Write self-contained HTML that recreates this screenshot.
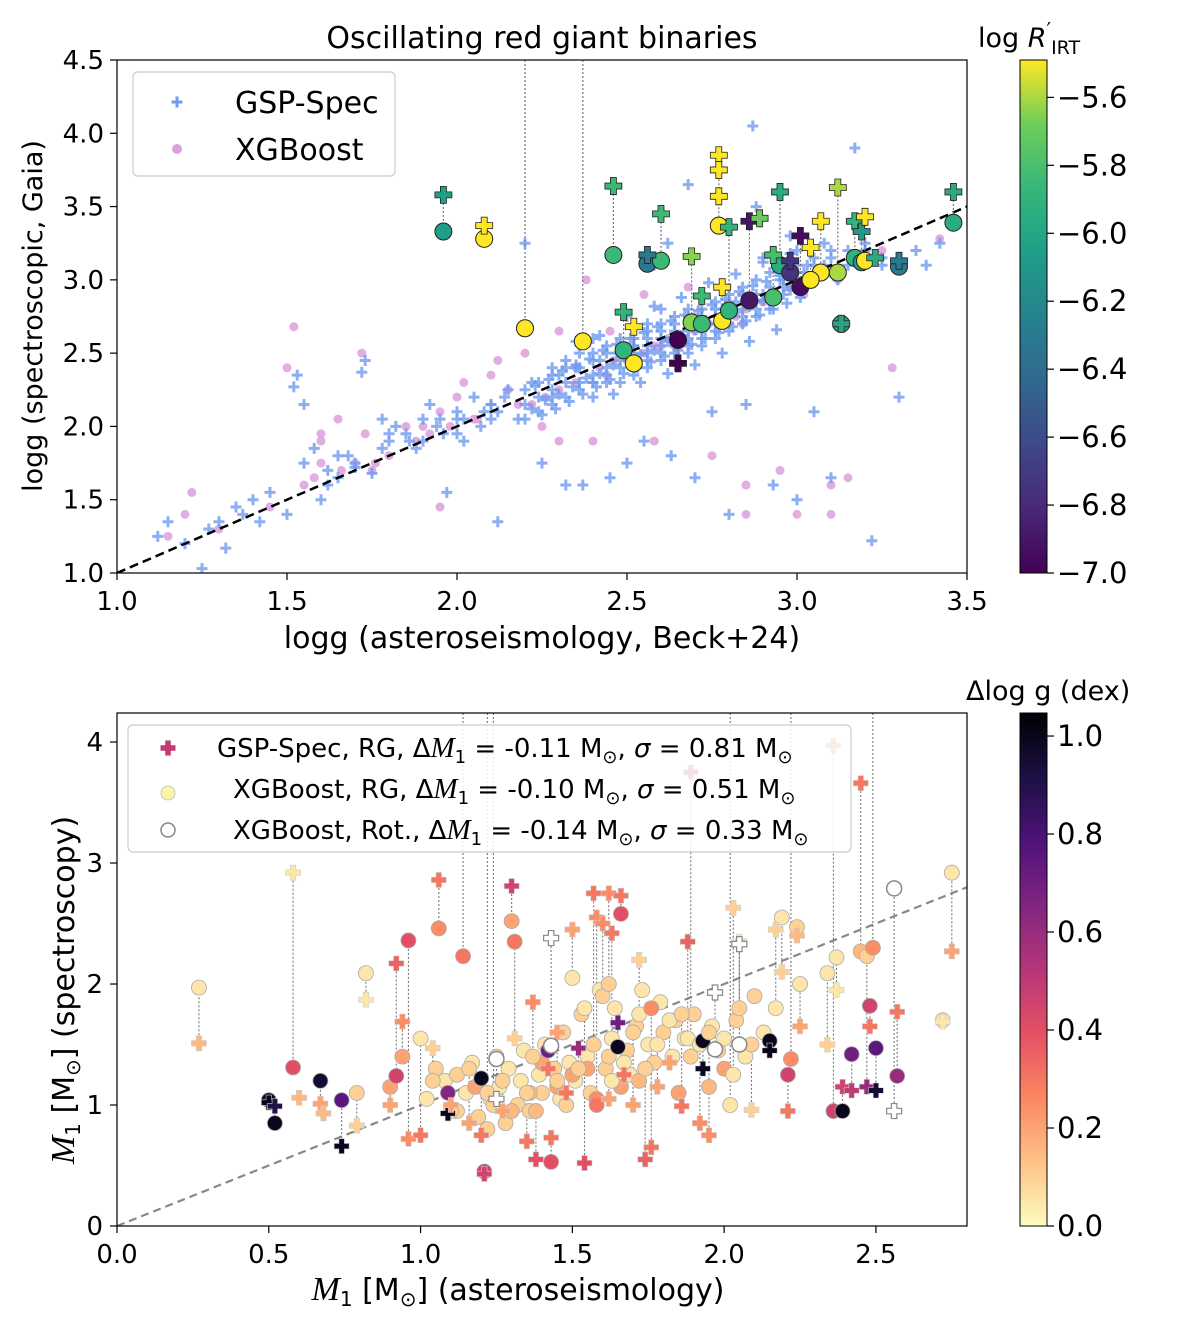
<!DOCTYPE html>
<html><head><meta charset="utf-8">
<style>
html,body{margin:0;padding:0;background:#fff;}
svg{display:block;font-family:"DejaVu Sans","Liberation Sans",sans-serif;}
</style></head>
<body>
<svg id="chart" width="1200" height="1319" viewBox="0 0 1200 1319" xmlns="http://www.w3.org/2000/svg">
<defs>
<linearGradient id="gViridis" x1="0" y1="1" x2="0" y2="0">
<stop offset="0" stop-color="#440154"/><stop offset="0.125" stop-color="#482878"/><stop offset="0.25" stop-color="#3e4989"/><stop offset="0.375" stop-color="#31688e"/><stop offset="0.5" stop-color="#26828e"/><stop offset="0.625" stop-color="#1f9e89"/><stop offset="0.75" stop-color="#35b779"/><stop offset="0.875" stop-color="#6ece58"/><stop offset="1" stop-color="#fde725"/>
</linearGradient>
<linearGradient id="gMagma" x1="0" y1="1" x2="0" y2="0">
<stop offset="0" stop-color="#fcfdbf"/><stop offset="0.125" stop-color="#fec287"/><stop offset="0.25" stop-color="#fb8761"/><stop offset="0.375" stop-color="#e55064"/><stop offset="0.5" stop-color="#b5367a"/><stop offset="0.625" stop-color="#812581"/><stop offset="0.75" stop-color="#4f127b"/><stop offset="0.875" stop-color="#1c1044"/><stop offset="1" stop-color="#000004"/>
</linearGradient>
<clipPath id="clipTop"><rect x="117" y="60" width="850" height="513"/></clipPath>
<clipPath id="clipBot"><rect x="117" y="713" width="850" height="513"/></clipPath>
</defs>
<g id="layer"></g>
</svg>
<script>
// ---------- TOP PANEL DATA ----------
const topGspX = [1.12,1.15,1.2,1.25,1.27,1.3,1.32,1.35,1.37,1.4,1.42,1.45,1.5,1.52,1.53,1.55,1.58,1.6,1.62,1.65,1.68,1.7,1.72,1.73,1.75,1.78,1.8,1.82,1.85,1.88,1.9,1.92,1.95,1.97,2.0,2.02,2.05,2.07,2.1,2.12,2.15,2.18,2.2,2.22,2.25,2.28,2.3,2.32,2.35,2.37,2.4,2.42,2.45,2.47,2.5,2.52,2.55,2.58,2.6,2.62,2.63,2.65,2.68,2.7,2.72,2.75,2.78,2.8,2.82,2.85,2.88,2.9,2.93,2.95,2.98,3.0,3.02,3.05,3.08,3.1,3.12,3.17,3.2,3.22,3.25,3.3,3.42,2.87,
2.2,2.2,2.2,2.24,2.24,2.24,2.28,2.28,2.28,2.28,2.32,2.32,2.32,2.32,2.36,2.36,2.36,2.36,2.4,2.4,2.4,2.4,2.4,2.44,2.44,2.44,2.44,2.44,2.48,2.48,2.48,2.48,2.48,2.48,2.52,2.52,2.52,2.52,2.52,2.52,2.56,2.56,2.56,2.56,2.56,2.56,2.56,2.6,2.6,2.6,2.6,2.6,2.6,2.64,2.64,2.64,2.64,2.64,2.64,2.64,2.68,2.68,2.68,2.68,2.68,2.68,2.68,2.72,2.72,2.72,2.72,2.72,2.72,2.76,2.76,2.76,2.76,2.76,2.76,2.8,2.8,2.8,2.8,2.8,2.8,2.84,2.84,2.84,2.84,2.84,2.88,2.88,2.88,2.88,2.88,2.92,2.92,2.92,2.92,2.92,2.96,2.96,2.96,2.96,3.0,3.0,3.0,3.0,3.05,3.05,3.05,3.1,3.1,3.1,3.15,3.15,3.2,3.2,2.1,2.1,2.0,2.0,1.9,
2.22,2.26,2.3,2.34,2.38,2.42,2.46,2.5,2.54,2.58,2.62,2.66,2.7,2.74,2.78,2.82,2.86,2.9,2.94,2.98,3.02,3.06,
2.23,2.27,2.31,2.35,2.39,2.43,2.47,2.51,2.55,2.59,2.63,2.67,2.71,2.75,2.79,2.83,2.87,2.91,2.95,2.99,3.03,
2.25,2.29,2.33,2.37,2.41,2.45,2.49,2.53,2.57,2.61,2.65,2.69,2.73,2.77,2.81,2.85,2.89,2.93,2.97,3.01,
2.35,2.42,2.5,2.58,2.66,2.74,2.82,2.9,2.98,2.46,2.54,2.62,2.7,2.78,2.86,2.94,
1.62,1.7,1.78,1.86,1.94,2.02,2.08,2.14,1.55,1.65,1.8,1.96,2.12,3.35,3.25,3.38,2.4,2.6,2.9,3.08];
const topGspY = [1.25,1.35,1.2,1.03,1.3,1.35,1.17,1.45,1.4,1.5,1.35,1.55,1.4,2.27,2.35,2.15,1.85,1.5,1.7,1.65,1.8,1.72,2.37,2.45,1.68,2.05,1.9,2.0,1.95,1.85,2.05,2.15,2.05,1.55,2.1,1.9,2.2,2.0,2.15,1.35,2.25,2.05,3.25,2.3,1.75,2.2,2.35,1.6,2.4,1.6,2.3,2.45,1.65,2.5,1.75,2.55,1.9,3.1,2.6,3.25,1.8,2.55,3.65,1.65,2.7,2.1,2.8,1.4,2.85,2.15,3.5,2.9,1.6,3.0,3.3,1.5,3.05,2.1,3.1,1.65,3.0,3.9,3.2,1.22,3.15,2.2,3.25,4.05,
2.15,2.25,2.05,2.2,2.3,2.1,2.25,2.35,2.15,2.4,2.3,2.2,2.4,2.45,2.3,2.4,2.25,2.5,2.35,2.45,2.3,2.5,2.2,2.4,2.5,2.35,2.55,2.3,2.4,2.5,2.45,2.6,2.3,2.55,2.45,2.55,2.4,2.6,2.35,2.5,2.5,2.6,2.45,2.65,2.4,2.55,2.7,2.55,2.5,2.65,2.45,2.7,2.6,2.6,2.5,2.7,2.55,2.75,2.45,2.65,2.6,2.7,2.55,2.75,2.65,2.8,2.5,2.65,2.75,2.6,2.8,2.7,2.55,2.7,2.8,2.65,2.85,2.6,2.75,2.75,2.85,2.7,2.9,2.65,2.8,2.8,2.9,2.75,2.95,2.7,2.8,2.9,2.85,3.0,2.75,2.85,2.95,2.9,3.05,2.8,2.9,3.0,2.95,3.1,2.95,3.05,3.1,3.2,3.0,3.1,3.15,3.05,3.15,3.2,3.1,3.2,3.15,3.25,2.05,2.15,1.95,2.05,1.9,
2.12,2.18,2.22,2.27,2.33,2.36,2.42,2.47,2.49,2.52,2.58,2.62,2.66,2.7,2.73,2.78,2.82,2.86,2.88,2.93,2.98,3.02,
2.28,2.32,2.38,2.42,2.46,2.52,2.56,2.6,2.64,2.68,2.72,2.76,2.79,2.83,2.87,2.92,2.96,2.99,3.03,3.07,3.1,
2.08,2.12,2.17,2.22,2.27,2.32,2.36,2.4,2.44,2.48,2.52,2.56,2.6,2.64,2.68,2.72,2.76,2.8,2.84,2.88,
2.58,2.62,2.75,2.82,2.88,2.98,3.04,3.12,3.18,2.22,2.3,2.36,2.42,2.5,2.58,2.66,
1.6,1.75,1.85,1.9,2.0,2.05,2.1,2.2,1.75,1.8,1.95,1.95,2.1,3.2,3.1,3.1,2.6,2.8,3.15,3.25];
const topXgbX = [1.15,1.2,1.3,1.45,1.52,1.5,1.55,1.6,1.6,1.65,1.7,1.72,1.73,1.75,1.8,1.85,1.9,1.95,2.0,2.02,2.05,2.1,2.12,2.15,2.2,2.25,2.3,2.35,2.4,2.45,2.5,2.55,2.6,2.65,2.7,2.75,2.8,2.85,2.9,2.95,3.0,3.0,3.05,3.1,3.15,3.2,3.25,3.28,3.42,2.55,2.68,2.38,1.95,1.22,2.58,2.3,2.85,1.6,3.1,2.3,2.35,2.42,2.5,2.55,2.62,2.7,2.78,2.85,2.92,2.98,2.46,2.58,2.66,2.74,2.82,2.9,2.26,2.18,2.06,1.98,1.58,1.66,1.76,1.88,1.92,2.22,2.44,2.64,2.84,3.02,3.12];
const topXgbY = [1.25,1.4,1.3,1.45,2.68,2.4,1.6,1.95,1.75,2.05,1.75,2.5,1.95,1.7,1.8,2.0,2.0,2.1,2.2,2.3,2.05,2.35,2.45,2.25,2.5,2.0,2.65,2.4,1.9,2.65,2.55,2.9,2.55,2.4,2.75,1.8,2.8,1.6,2.85,1.7,2.95,1.4,3.0,1.6,1.65,3.15,3.2,2.4,3.28,3.1,2.95,3.0,1.45,1.55,1.9,1.9,1.4,1.9,1.4,2.25,2.3,2.4,2.45,2.5,2.6,2.65,2.75,2.8,2.85,2.95,2.45,2.55,2.6,2.7,2.75,2.85,2.2,2.15,2.05,2.0,1.65,1.7,1.75,1.9,1.95,2.15,2.35,2.55,2.7,2.9,3.0];
// highlighted binaries: x, logg GSP (plus), logg XGB (circle), log R'IRT colour
const binX    = [1.96,2.08,2.2,2.37,2.46,2.49,2.52,2.56,2.6,2.65,2.69,2.72,2.77,2.77,2.77,2.78,2.8,2.86,2.89,2.95,2.98,3.01,3.07,3.12,3.13,3.17,3.19,3.2,3.23,3.3,3.46,3.04,2.93];
const binGsp  = [3.58,3.37,4.8,4.8,3.64,2.78,2.68,3.17,3.45,2.43,3.16,2.89,3.85,3.75,3.57,2.95,3.36,3.40,3.42,3.60,3.13,3.30,3.40,3.63,2.70,3.40,3.33,3.43,3.15,3.13,3.60,3.22,3.17];
const binXgb  = [3.33,3.28,2.67,2.58,3.17,2.52,2.43,3.11,3.13,2.59,2.71,2.70,3.37,null,null,2.72,2.79,2.86,null,3.10,3.05,2.95,3.05,3.05,2.70,3.15,3.12,3.13,null,3.09,3.39,3.0,2.88];
const binCol  = [-6.05,-5.49,-5.49,-5.49,-5.85,-5.9,-5.49,-6.3,-5.85,-7.0,-5.65,-5.85,-5.49,-5.49,-5.49,-5.49,-5.9,-6.9,-5.7,-5.95,-6.75,-6.95,-5.49,-5.6,-6.0,-5.9,-6.1,-5.49,-5.95,-6.3,-5.95,-5.49,-5.8];
const topXTicks = [1.0,1.5,2.0,2.5,3.0,3.5];
const topYTicks = [1.0,1.5,2.0,2.5,3.0,3.5,4.0,4.5];
const cbTopTicks = [-7.0,-6.8,-6.6,-6.4,-6.2,-6.0,-5.8,-5.6];

// ---------- BOTTOM PANEL DATA ----------
const rgX   = [0.27,0.50,0.52,0.58,0.60,0.67,0.68,0.74,0.79,0.82,0.90,0.92,0.94,0.96,1.00,1.04,1.06,1.09,1.10,1.14,1.16,1.20,1.21,1.22,1.24,1.27,1.30,1.31,1.35,1.37,1.38,1.42,1.43,1.45,1.48,1.50,1.52,1.54,1.57,1.58,1.60,1.62,1.62,1.63,1.65,1.66,1.67,1.70,1.72,1.74,1.76,1.78,1.82,1.86,1.88,1.89,1.92,1.93,1.95,2.02,2.03,2.05,2.09,2.15,2.17,2.19,2.21,2.22,2.24,2.25,2.34,2.36,2.37,2.39,2.42,2.45,2.47,2.48,2.49,2.50,2.57,2.75,2.72];
const rgGsp = [1.51,1.02,0.99,2.92,1.06,1.01,0.93,0.66,0.83,1.87,1.0,2.17,1.69,0.72,0.75,1.47,2.86,0.93,1.0,5,0.85,0.75,0.43,5,5,0.95,2.81,1.55,0.7,1.85,0.55,1.3,0.73,1.6,1.1,2.45,1.47,0.52,2.75,2.55,2.5,2.75,1.05,2.42,1.68,2.73,1.25,1.0,2.2,0.55,0.65,1.15,1.35,0.99,2.35,3.75,0.85,1.3,0.75,5,2.63,2.35,0.96,1.45,2.45,2.1,0.95,5,2.4,1.65,1.5,3.97,1.95,1.15,1.12,3.66,1.15,1.65,5,1.12,1.77,2.27,1.69];
const rgGspC= [0.15,1.0,0.9,0.05,0.15,0.2,0.15,1.0,0.1,0.05,0.2,0.35,0.25,0.25,0.3,0.1,0.3,1.0,0.2,0.3,0.2,0.3,0.45,0.3,0.2,0.2,0.45,0.1,0.3,0.25,0.4,0.3,0.3,0.2,0.3,0.2,0.6,0.4,0.3,0.25,0.25,0.25,0.2,0.3,0.7,0.3,0.3,0.2,0.1,0.35,0.3,0.2,0.2,0.3,0.35,0.5,0.25,1.0,0.25,0.1,0.1,0.05,0.1,1.0,0.1,0.1,0.3,0.1,0.15,0.2,0.1,0.3,0.05,0.45,0.5,0.3,0.6,0.3,0.2,0.95,0.3,0.2,0.05];
const rgXgb = [1.97,1.04,0.85,1.31,null,1.2,null,1.04,1.1,2.09,1.15,1.24,1.4,2.36,1.55,1.2,2.46,1.1,0.95,2.23,1.3,1.22,0.45,1.1,1.0,1.2,2.52,2.35,1.1,1.4,0.95,1.45,0.53,1.2,1.0,2.05,1.3,1.8,1.5,1.0,1.9,2.0,1.4,1.2,1.48,2.58,1.35,1.6,1.75,1.3,1.8,1.5,1.7,1.75,1.55,1.4,1.5,1.53,1.6,1.0,1.25,1.8,1.5,1.53,1.8,2.55,1.25,1.38,2.47,2.0,2.09,0.95,2.22,0.95,1.42,2.27,2.23,1.82,2.3,1.47,1.24,2.92,1.7];
const rgXgbC= [0.05,1.0,1.0,0.4,0,0.95,0,0.75,0.1,0.05,0.2,0.45,0.2,0.4,0.05,0.1,0.25,0.65,0.1,0.3,0.1,1.0,0.45,0.1,0.1,0.1,0.2,0.3,0.1,0.1,0.15,0.7,0.4,0.1,0.1,0.05,0.1,0.05,0.1,0.3,0.1,0.1,0.1,0.05,1.0,0.4,0.05,0.1,0.05,0.1,0.25,0.05,0.05,0.1,0.05,0.1,0.05,1.0,0.1,0.05,0.05,0.1,0.1,1.0,0.05,0.05,0.45,0.25,0.1,0.05,0.05,0.45,0.05,1.0,0.7,0.15,0.1,0.45,0.25,0.75,0.6,0.05,0.05];
const cloudX = [1.02,1.05,1.08,1.12,1.15,1.17,1.19,1.23,1.25,1.26,1.28,1.29,1.32,1.33,1.34,1.36,1.39,1.4,1.41,1.44,1.46,1.47,1.49,1.51,1.53,1.55,1.56,1.59,1.61,1.63,1.64,1.68,1.69,1.71,1.73,1.75,1.77,1.79,1.8,1.83,1.84,1.87,1.9,1.96,1.98,2.0,2.04,2.07,2.1,2.13,1.18,1.3,1.45,1.58,1.72,1.85,1.22,1.36,1.5,1.66,1.12,1.4,1.55,1.95,2.0];
const cloudY = [1.05,1.3,1.2,0.95,1.1,1.35,0.9,1.05,1.4,1.15,0.85,1.3,1.0,1.2,1.45,0.95,1.25,1.1,1.5,1.3,1.05,1.6,1.35,1.2,1.75,1.4,1.1,1.95,1.3,1.55,1.8,1.45,1.25,1.65,1.95,1.5,1.35,1.85,1.6,1.4,1.7,1.55,1.75,1.65,1.45,1.55,1.7,1.4,1.9,1.6,1.15,0.95,1.15,1.05,1.2,1.1,0.8,1.1,1.25,1.15,1.25,1.35,1.3,1.15,1.3];
const cloudC = [0.05,0.1,0.05,0.1,0.05,0.05,0.1,0.05,0.1,0.05,0.1,0.05,0.1,0.05,0.05,0.1,0.05,0.1,0.05,0.1,0.05,0.1,0.05,0.05,0.1,0.05,0.1,0.05,0.1,0.05,0.05,0.1,0.05,0.1,0.05,0.05,0.1,0.05,0.1,0.05,0.1,0.05,0.1,0.05,0.1,0.05,0.1,0.05,0.1,0.05,0.2,0.15,0.2,0.25,0.15,0.2,0.1,0.15,0.2,0.2,0.1,0.2,0.2,0.15,0.2];
const rotX   = [1.43,1.97,2.05,2.56,1.25];
const rotGsp = [2.38,1.93,2.33,0.95,1.05];
const rotXgb = [1.49,1.46,1.5,2.79,1.38];
const botXTicks = [0.0,0.5,1.0,1.5,2.0,2.5];
const botYTicks = [0,1,2,3,4];
const cbBotTicks = [0.0,0.2,0.4,0.6,0.8,1.0];

// ---------- helpers ----------
const NS="http://www.w3.org/2000/svg";
const layer=document.getElementById('layer');
function mk(tag,attrs,parent){const e=document.createElementNS(NS,tag);for(const k in attrs)e.setAttribute(k,attrs[k]);(parent||layer).appendChild(e);return e;}
const TX=v=>117+(v-1.0)*340, TY=v=>573-(v-1.0)*(513/3.5);
const BX=v=>117+v*(850/2.8), BY=v=>1226-v*(513/4.24);
const CBT=v=>573-(v+7.0)*(513/1.51);
const CBB=v=>1226-v*(513/1.047);
function lerpCol(stops,t){t=Math.max(0,Math.min(1,t));const n=stops.length-1;const i=Math.min(n-1,Math.floor(t*n));const f=t*n-i;const a=stops[i],b=stops[i+1];const h=s=>[1,3,5].map(k=>parseInt(s.substr(k,2),16));const A=h(a),B=h(b);return 'rgb('+A.map((x,j)=>Math.round(x+(B[j]-x)*f)).join(',')+')';}
const VIR=['#440154','#482878','#3e4989','#31688e','#26828e','#1f9e89','#35b779','#6ece58','#fde725'];
const MAG=['#000004','#1c1044','#4f127b','#812581','#b5367a','#e55064','#fb8761','#fec287','#fcfdbf'];
const vir=v=>lerpCol(VIR,(v+7.0)/1.51);
const mag=v=>lerpCol(MAG,1-v/1.047);
function plusPts(cx,cy,s,w){const a=s/2,b=w/2;return [[cx-b,cy-a],[cx+b,cy-a],[cx+b,cy-b],[cx+a,cy-b],[cx+a,cy+b],[cx+b,cy+b],[cx+b,cy+a],[cx-b,cy+a],[cx-b,cy+b],[cx-a,cy+b],[cx-a,cy-b],[cx-b,cy-b]].map(p=>p.join(',')).join(' ');}
function txt(x,y,s,attrs,name){const t=mk('text',Object.assign({x:x,y:y},attrs));t.textContent=s;return t;}
const MS='<tspan font-family="Liberation Serif" font-style="italic">M</tspan>';

// ================= TOP PANEL =================
const gTop=mk('g',{'clip-path':'url(#clipTop)'});


topXgbX.forEach((x,i)=>{const c=mk('circle',{cx:TX(x),cy:TY(topXgbY[i]),r:4.5,fill:'#dda0dd','fill-opacity':0.85},gTop);

});
topGspX.forEach((x,i)=>{const p=mk('polygon',{points:plusPts(TX(x),TY(topGspY[i]),11,3),fill:'#6f9bf0','fill-opacity':0.8},gTop);

});
const diag=mk('line',{x1:TX(1.0),y1:TY(1.0),x2:TX(3.5),y2:TY(3.5),stroke:'#000','stroke-width':2.5,'stroke-dasharray':'9,5'},gTop);


binX.forEach((x,i)=>{if(binXgb[i]!==null){const l=mk('line',{x1:TX(x),y1:TY(binGsp[i]),x2:TX(x),y2:TY(binXgb[i]),stroke:'#777','stroke-width':1.2,'stroke-dasharray':'2,2'},gTop);

}});
binX.forEach((x,i)=>{if(binXgb[i]!==null){const c=mk('circle',{cx:TX(x),cy:TY(binXgb[i]),r:8.5,fill:vir(binCol[i]),stroke:'#222','stroke-width':1},gTop);

}});
binX.forEach((x,i)=>{const p=mk('polygon',{points:plusPts(TX(x),TY(binGsp[i]),17,6),fill:vir(binCol[i]),stroke:'#222','stroke-width':0.8},gTop);

});
const frT=mk('rect',{x:117,y:60,width:850,height:513,fill:'none',stroke:'#000','stroke-width':1.2});


topXTicks.forEach(v=>{mk('line',{x1:TX(v),y1:573,x2:TX(v),y2:580,stroke:'#000','stroke-width':1.2});txt(TX(v),610,v.toFixed(1),{'font-size':26,'text-anchor':'middle'},'x-tick-label');});
topYTicks.forEach(v=>{mk('line',{x1:110,y1:TY(v),x2:117,y2:TY(v),stroke:'#000','stroke-width':1.2});txt(104,TY(v)+9,v.toFixed(1),{'font-size':26,'text-anchor':'end'},'y-tick-label');});
txt(542,48,'Oscillating red giant binaries',{'font-size':30,'text-anchor':'middle'},'top-chart-title');
txt(542,648,'logg (asteroseismology, Beck+24)',{'font-size':30,'text-anchor':'middle'},'top-x-axis-title');
txt(0,0,'logg (spectroscopic, Gaia)',{'font-size':27,'text-anchor':'middle',transform:'translate(42,316) rotate(-90)'},'top-y-axis-title');
const lgT=mk('rect',{x:133,y:72,width:262,height:104,rx:5,fill:'#fff','fill-opacity':0.85,stroke:'#ccc','stroke-width':1.2});


mk('polygon',{points:plusPts(177,102,11,3),fill:'#6f9bf0'});
txt(235,113,'GSP-Spec',{'font-size':30},'legend-entry-gsp-spec');
mk('circle',{cx:177,cy:149,r:5,fill:'#dda0dd'});
txt(235,160,'XGBoost',{'font-size':30},'legend-entry-xgboost');
const cbT=mk('rect',{x:1020,y:60,width:27,height:513,fill:'url(#gViridis)',stroke:'#000','stroke-width':1});


cbTopTicks.forEach(v=>{mk('line',{x1:1047,y1:CBT(v),x2:1054,y2:CBT(v),stroke:'#000','stroke-width':1.2});txt(1057,CBT(v)+10,'\u2212'+Math.abs(v).toFixed(1),{'font-size':29},'colorbar-tick-label');});
const cbtT=mk('text',{x:978,y:47,'font-size':27});
cbtT.innerHTML='log <tspan font-style="italic">R</tspan><tspan font-size="20" dy="-10">\u2032</tspan><tspan font-size="19" dy="17">IRT</tspan>';



// ================= BOTTOM PANEL =================
const gBot=mk('g',{'clip-path':'url(#clipBot)'});


const d2=mk('line',{x1:BX(0),y1:BY(0),x2:BX(2.8),y2:BY(2.8),stroke:'#888','stroke-width':2.2,'stroke-dasharray':'8,5'},gBot);


rgX.forEach((x,i)=>{if(rgXgb[i]!==null){const l=mk('line',{x1:BX(x),y1:BY(rgGsp[i]),x2:BX(x),y2:BY(rgXgb[i]),stroke:'#777','stroke-width':1.1,'stroke-dasharray':'2,2'},gBot);

}});
rotX.forEach((x,i)=>{const l=mk('line',{x1:BX(x),y1:BY(rotGsp[i]),x2:BX(x),y2:BY(rotXgb[i]),stroke:'#777','stroke-width':1.1,'stroke-dasharray':'2,2'},gBot);

});
cloudX.forEach((x,i)=>{const c=mk('circle',{cx:BX(x),cy:BY(cloudY[i]),r:7.5,fill:mag(cloudC[i]),stroke:'#aaa','stroke-width':0.8},gBot);

});
rgX.forEach((x,i)=>{if(rgXgb[i]!==null){const c=mk('circle',{cx:BX(x),cy:BY(rgXgb[i]),r:7.5,fill:mag(rgXgbC[i]),stroke:'#aaa','stroke-width':0.8},gBot);

}});
rgX.forEach((x,i)=>{const p=mk('polygon',{points:plusPts(BX(x),BY(rgGsp[i]),15,5.5),fill:mag(rgGspC[i]),stroke:'#ccc','stroke-width':0.6},gBot);

});
rotX.forEach((x,i)=>{const c=mk('circle',{cx:BX(x),cy:BY(rotXgb[i]),r:7.5,fill:'#fff',stroke:'#888','stroke-width':1.5},gBot);


const p=mk('polygon',{points:plusPts(BX(x),BY(rotGsp[i]),15,5.5),fill:'#fff',stroke:'#888','stroke-width':1.2},gBot);

});
const frB=mk('rect',{x:117,y:713,width:850,height:513,fill:'none',stroke:'#000','stroke-width':1.2});


botXTicks.forEach(v=>{mk('line',{x1:BX(v),y1:1226,x2:BX(v),y2:1233,stroke:'#000','stroke-width':1.2});txt(BX(v),1263,v.toFixed(1),{'font-size':26,'text-anchor':'middle'},'x-tick-label');});
botYTicks.forEach(v=>{mk('line',{x1:110,y1:BY(v),x2:117,y2:BY(v),stroke:'#000','stroke-width':1.2});txt(103,BY(v)+9,String(v),{'font-size':26,'text-anchor':'end'},'y-tick-label');});
const bxt=mk('text',{x:518,y:1300,'font-size':30,'text-anchor':'middle'});
bxt.innerHTML='<tspan font-family="Liberation Serif" font-style="italic" font-size="34">M</tspan><tspan font-size="20" dy="6">1</tspan><tspan dy="-6"> [M</tspan><tspan font-size="20" dy="6">\u2299</tspan><tspan dy="-6">] (asteroseismology)</tspan>';


const byt=mk('text',{x:0,y:0,'font-size':30,'text-anchor':'middle',transform:'translate(74,990) rotate(-90)'});
byt.innerHTML='<tspan font-family="Liberation Serif" font-style="italic" font-size="34">M</tspan><tspan font-size="20" dy="6">1</tspan><tspan dy="-6"> [M</tspan><tspan font-size="20" dy="6">\u2299</tspan><tspan dy="-6">] (spectroscopy)</tspan>';


const lgB=mk('rect',{x:128,y:725,width:723,height:127,rx:5,fill:'#fff','fill-opacity':0.85,stroke:'#ccc','stroke-width':1.2});


mk('polygon',{points:plusPts(168,748,15,5.5),fill:'#c2386f'});
mk('circle',{cx:168,cy:793,r:7,fill:'#fbf5a8',stroke:'#bbb','stroke-width':0.8});
mk('circle',{cx:168,cy:830,r:7,fill:'#fff',stroke:'#888','stroke-width':1.5});
const lines=[['GSP-Spec, RG, ','-0.11','0.81',217,757],['XGBoost, RG, ','-0.10','0.51',233,798],['XGBoost, Rot., ','-0.14','0.33',233,839]];
lines.forEach((L,i)=>{const t=mk('text',{x:L[3],y:L[4],'font-size':26});
t.innerHTML=L[0]+'\u0394<tspan font-family="Liberation Serif" font-style="italic" font-size="29">M</tspan><tspan font-size="18" dy="6">1</tspan><tspan dy="-6"> = '+L[1]+' M</tspan><tspan font-size="18" dy="6">\u2299</tspan><tspan dy="-6">, </tspan><tspan font-style="italic">\u03c3</tspan> = '+L[2]+' M<tspan font-size="18" dy="6">\u2299</tspan>';

});
const cbB=mk('rect',{x:1020,y:713,width:27,height:513,fill:'url(#gMagma)',stroke:'#000','stroke-width':1});


cbBotTicks.forEach(v=>{mk('line',{x1:1047,y1:CBB(v),x2:1054,y2:CBB(v),stroke:'#000','stroke-width':1.2});txt(1057,CBB(v)+10,v.toFixed(1),{'font-size':29},'colorbar-tick-label');});
txt(966,700,'\u0394log g (dex)',{'font-size':27},'bottom-colorbar-title');
</script>
</body></html>
